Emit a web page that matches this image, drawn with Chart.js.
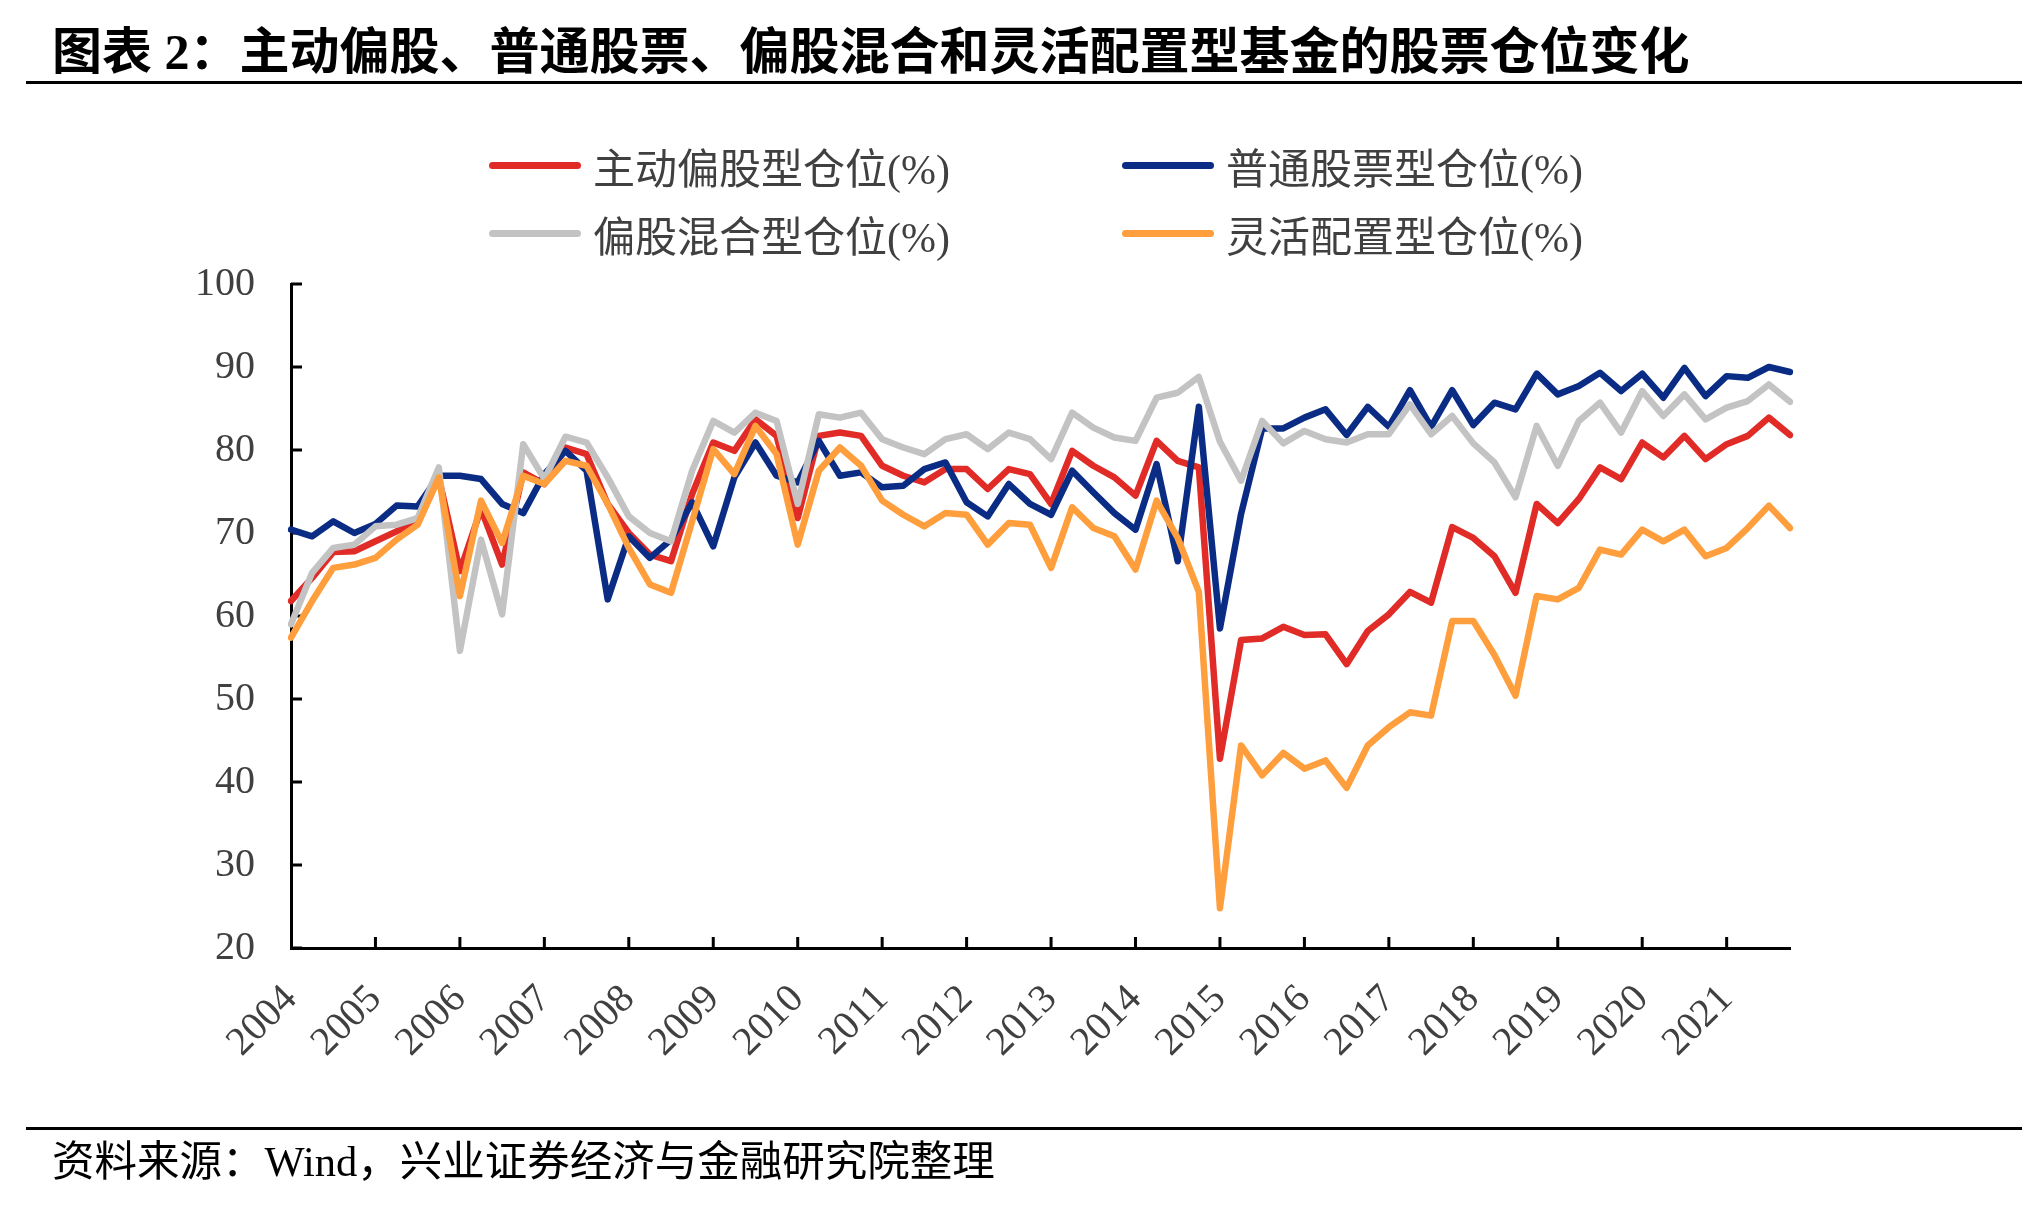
<!DOCTYPE html>
<html>
<head>
<meta charset="utf-8">
<script src="https://cdn.jsdelivr.net/npm/chart.js@4.4.1/dist/chart.umd.min.js"></script>
<style>
  html, body { margin: 0; padding: 0; background: #fff; }
  #page { position: relative; width: 2042px; height: 1228px; overflow: hidden;
          font-family: "Liberation Serif", "Noto Sans CJK SC", serif; }
  #chartBox { position: absolute; left: 0; top: 0; width: 2042px; height: 1228px; }
  #title { position: absolute; left: 52px; top: 25px; font-size: 50px; line-height: 54px;
           font-weight: bold; color: #000; white-space: nowrap; }
  .rule { position: absolute; left: 26px; width: 1996px; height: 3px; background: #000; }
  .legend-item { position: absolute; height: 60px; display: flex; align-items: center;
                 font-size: 42px; color: #404040; white-space: nowrap; }
  .legend-item .swatch { width: 92px; height: 7px; border-radius: 4px; margin-right: 12px; }
  #source { position: absolute; left: 52px; top: 1137px; font-size: 42.5px; line-height: 50px;
            color: #000; white-space: nowrap; }
</style>
</head>
<body>
<div id="page">
  <div id="chartBox"><canvas id="positionChart" width="2042" height="1228"></canvas></div>
  <div id="title">图表 2：主动偏股、普通股票、偏股混合和灵活配置型基金的股票仓位变化</div>
  <div class="rule" style="top:81px"></div>
  <div id="legend"></div>
  <div class="rule" style="top:1127px"></div>
  <div id="source">资料来源：Wind，兴业证券经济与金融研究院整理</div>
</div>

<script>
// 年份（x 轴刻度），每年 4 个季度
const years = ["2004", "2005", "2006", "2007", "2008", "2009", "2010", "2011", "2012",
  "2013", "2014", "2015", "2016", "2017", "2018", "2019", "2020", "2021"];
const quarters = years.flatMap((y) => [y + "Q1", y + "Q2", y + "Q3", y + "Q4"]);

const yTicks = [20, 30, 40, 50, 60, 70, 80, 90, 100];

// 主动偏股型仓位(%)
const activeEquity = [
  61.8, 64.6, 67.7, 67.8, 69.0, 70.2, 71.2, 76.7, 65.4, 72.9, 66.2, 77.3, 75.9, 80.3, 79.5,
  73.5, 70.0, 67.4, 66.6, 74.7, 80.9, 79.9, 83.7, 81.7, 71.8, 81.7, 82.1, 81.7, 78.1,
  76.9, 76.1, 77.7, 77.7, 75.3, 77.7, 77.1, 73.5, 79.9, 78.1, 76.7, 74.5, 81.1, 78.7,
  77.9, 42.8, 57.1, 57.3, 58.7, 57.7, 57.8, 54.2, 58.2, 60.2, 62.9, 61.6, 70.7, 69.4,
  67.2, 62.8, 73.5, 71.2, 74.1, 77.9, 76.5, 80.9, 79.1, 81.7, 78.9, 80.7, 81.7, 83.9, 81.8
];

// 普通股票型仓位(%)
const commonStock = [
  70.4, 69.6, 71.4, 70.0, 71.1, 73.3, 73.2, 76.9, 76.9, 76.5, 73.5, 72.4, 77.1, 79.9, 77.5,
  62.0, 69.6, 67.0, 69.2, 73.7, 68.4, 76.7, 80.9, 76.9, 76.1, 81.1, 76.9, 77.3, 75.5,
  75.7, 77.7, 78.5, 73.7, 72.0, 75.9, 73.5, 72.2, 77.5, 74.9, 72.4, 70.4, 78.3, 66.6,
  85.2, 58.5, 72.3, 82.6, 82.6, 83.9, 84.9, 81.8, 85.2, 82.8, 87.2, 82.8, 87.2, 83.0,
  85.7, 84.9, 89.2, 86.7, 87.7, 89.3, 87.1, 89.2, 86.3, 89.9, 86.5, 88.9, 88.7, 90.0, 89.4
];

// 偏股混合型仓位(%)
const equityHybrid = [
  59.0, 65.2, 68.2, 68.6, 70.8, 71.0, 71.8, 77.9, 55.8, 69.2, 60.2, 80.7, 76.5, 81.6, 80.9,
  76.7, 72.0, 70.0, 69.0, 77.5, 83.5, 82.1, 84.5, 83.5, 73.5, 84.3, 83.9, 84.5, 81.3,
  80.3, 79.5, 81.3, 81.9, 80.1, 82.1, 81.3, 78.9, 84.5, 82.7, 81.5, 81.1, 86.3, 86.9,
  88.8, 81.0, 76.3, 83.5, 80.8, 82.3, 81.3, 80.9, 81.9, 81.9, 85.5, 81.9, 84.1, 80.8,
  78.5, 74.3, 82.9, 78.1, 83.5, 85.7, 82.1, 87.1, 84.1, 86.7, 83.7, 85.1, 85.9, 87.9, 85.8
];

// 灵活配置型仓位(%)
const flexible = [
  57.4, 61.8, 65.8, 66.2, 67.0, 69.2, 71.0, 76.7, 62.4, 73.9, 68.8, 76.9, 75.9, 78.7, 78.1,
  73.5, 68.2, 63.8, 62.8, 71.4, 80.1, 77.1, 82.9, 79.5, 68.6, 77.5, 80.3, 78.1, 73.9,
  72.2, 70.8, 72.4, 72.2, 68.6, 71.2, 71.0, 65.8, 73.1, 70.6, 69.6, 65.6, 73.9, 69.4,
  62.9, 24.8, 44.4, 40.8, 43.5, 41.6, 42.6, 39.3, 44.4, 46.6, 48.4, 48.0, 59.4, 59.4,
  55.3, 50.4, 62.4, 62.0, 63.4, 68.0, 67.4, 70.4, 69.0, 70.4, 67.2, 68.2, 70.6, 73.3, 70.6
];

const seriesNames = ["主动偏股型仓位(%)", "普通股票型仓位(%)", "偏股混合型仓位(%)", "灵活配置型仓位(%)"];
const seriesColors = ["#E02B27", "#0B2C84", "#C3C3C3", "#FF9E3D"];

const FONT = "'Liberation Serif', 'Noto Sans CJK SC', serif";

/**
 * 图例（2 x 2 排列，和原图一致）
 */
function buildLegend() {
  const legend = document.getElementById("legend");
  const spots = [
    { left: 489, top: 135 }, { left: 1122, top: 135 },
    { left: 489, top: 203 }, { left: 1122, top: 203 },
  ];
  seriesNames.forEach((name, i) => {
    const item = document.createElement("div");
    item.className = "legend-item";
    item.style.left = spots[i].left + "px";
    item.style.top = spots[i].top + "px";
    item.innerHTML = `<span class="swatch" style="background:${seriesColors[i]}"></span><span>${name}</span>`;
    legend.appendChild(item);
  });
}

// 刻度线朝内（y 轴向右，x 轴向上）
const inwardTicks = {
  id: "inwardTicks",
  beforeDatasetsDraw(chart) {
    const { ctx, chartArea, scales } = chart;
    ctx.save();
    ctx.strokeStyle = "#000";
    ctx.lineWidth = 3;
    ctx.beginPath();
    yTicks.forEach((v) => {
      const py = scales.y.getPixelForValue(v);
      ctx.moveTo(chartArea.left, py);
      ctx.lineTo(chartArea.left + 11, py);
    });
    quarters.forEach((q, i) => {
      if (i % 4 !== 0 || i === 0) return;
      const px = scales.x.getPixelForValue(i);
      ctx.moveTo(px, chartArea.bottom);
      ctx.lineTo(px, chartArea.bottom - 11);
    });
    ctx.stroke();
    ctx.restore();
  },
};

function makeDataset(i, data, order) {
  return {
    label: seriesNames[i],
    data: data,
    borderColor: seriesColors[i],
    backgroundColor: seriesColors[i],
    order: order,
  };
}

function renderChart() {
  const ctx = document.getElementById("positionChart");
  new Chart(ctx, {
    type: "line",
    data: {
      labels: quarters,
      datasets: [
        makeDataset(0, activeEquity, 3),
        makeDataset(1, commonStock, 2),
        makeDataset(2, equityHybrid, 1),
        makeDataset(3, flexible, 0),
      ],
    },
    options: {
      responsive: false,
      animation: false,
      devicePixelRatio: 1,
      layout: { padding: { left: 0, top: 284, right: 252, bottom: 0 } },
      plugins: { legend: { display: false }, tooltip: { enabled: false } },
      elements: {
        point: { radius: 0 },
        line: { borderWidth: 6.5, tension: 0, borderJoinStyle: "round", borderCapStyle: "round" },
      },
      scales: {
        x: {
          type: "category",
          offset: false,
          grid: { display: false, drawTicks: false },
          border: { display: true, color: "#000", width: 3 },
          ticks: {
            autoSkip: false,
            maxRotation: 45,
            minRotation: 45,
            padding: 28,
            color: "#404040",
            font: { family: FONT, size: 40 },
            callback: (value, index) => (index % 4 === 0 ? years[index / 4] : ""),
          },
          afterFit: (scale) => { scale.height = 280; },
        },
        y: {
          min: 20,
          max: 100,
          grid: { display: false, drawTicks: false },
          border: { display: true, color: "#000", width: 3 },
          ticks: {
            stepSize: 10,
            padding: 36,
            color: "#404040",
            font: { family: FONT, size: 40 },
          },
          afterFit: (scale) => { scale.width = 291; },
        },
      },
    },
    plugins: [inwardTicks],
  });
}

buildLegend();
renderChart();
</script>
</body>
</html>
